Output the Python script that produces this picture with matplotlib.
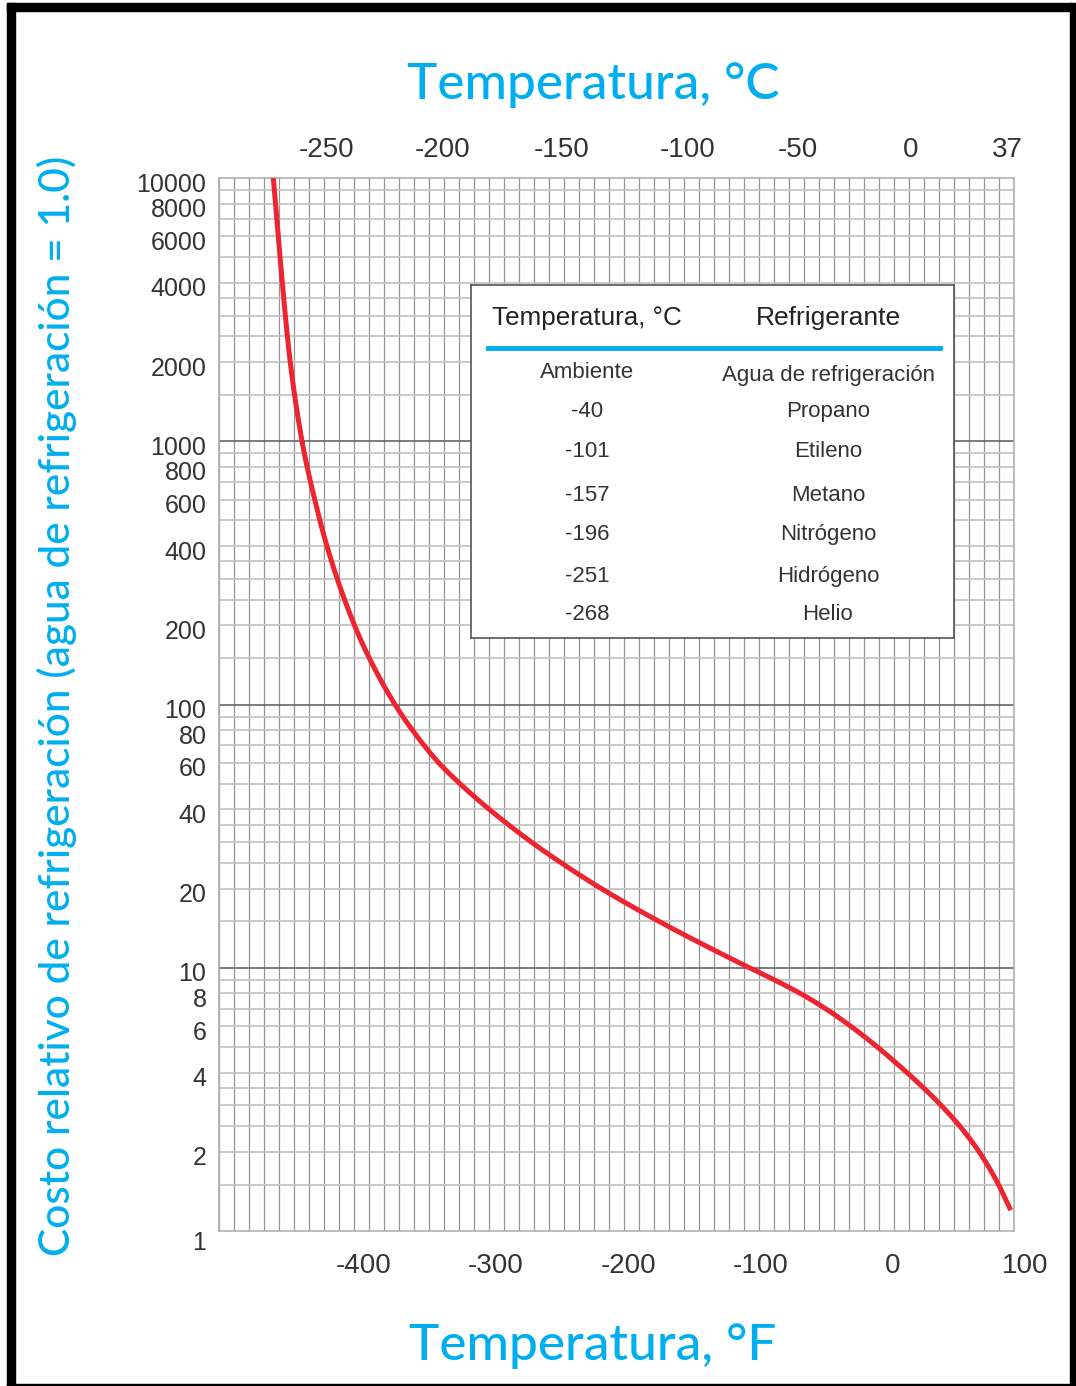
import numpy as np
import matplotlib
matplotlib.use('Agg')
from matplotlib import pyplot as plt
from matplotlib.patches import Rectangle
from matplotlib.transforms import ScaledTranslation

# curve: temperature (°F) vs relative cost
temp_f = [-468.0, -464.2, -461.2, -455.2, -446.3, -432.8, -427.5, -419.7, -406.7,
          -395.5, -376.1, -363.0, -343.0, -327.0, -305.0, -273.0, -250.4, -220.4,
          -176.7, -108.5, -89.7, -70.2, -51.1, -32.0, -11.8, 10.5, 23.0, 36.4,
          50.5, 65.0, 79.7, 88.9]
cost = [10000, 6000, 4000, 2000, 1000, 500, 400, 300, 200,
        150, 100, 80, 60, 50, 40, 30, 25, 20,
        15, 10, 9, 8, 7, 6, 5, 4, 3.5, 3,
        2.5, 2, 1.5, 1.2]

f_ticks = [-400, -300, -200, -100, 0, 100]
c_labels = ['-250', '-200', '-150', '-100', '-50', '0', '37']
c_pos_f = [-428, -340, -250.5, -155, -71.5, 13, 86.4]   # where the °C labels sit on the °F scale
y_ticks = [1, 2, 4, 6, 8, 10, 20, 40, 60, 80, 100, 200, 400, 600, 800,
           1000, 2000, 4000, 6000, 8000, 10000]

table_temp = ['Ambiente', '-40', '-101', '-157', '-196', '-251', '-268']
table_refr = ['Agua de refrigeración', 'Propano', 'Etileno', 'Metano',
              'Nitrógeno', 'Hidrógeno', 'Helio']
row_y_px = [372, 412, 452, 496, 535, 577, 615]

CYAN = '#00aeef'
W, H = 1076, 1386
XMIN, XMAX = -509, 91

plt.rcParams['font.family'] = ['Liberation Sans', 'DejaVu Sans']


def fx(px):
    return px / W


def fy(py):
    return 1 - py / H


def pchip_curve(temps, costs, n=400):
    # monotone cubic through the read points, temperature as a function of log(cost)
    x = np.log10(costs)[::-1]
    y = np.asarray(temps, float)[::-1]
    h = np.diff(x)
    dl = np.diff(y) / h
    d = np.zeros_like(y)
    for k in range(1, len(y) - 1):
        if dl[k - 1] * dl[k] > 0:
            w1, w2 = 2 * h[k] + h[k - 1], h[k] + 2 * h[k - 1]
            d[k] = (w1 + w2) / (w1 / dl[k - 1] + w2 / dl[k])
    d[0], d[-1] = dl[0], dl[-1]
    xs = np.linspace(x[0], x[-1], n)
    idx = np.clip(np.searchsorted(x, xs) - 1, 0, len(h) - 1)
    t = (xs - x[idx]) / h[idx]
    h00, h10 = 2 * t**3 - 3 * t**2 + 1, t**3 - 2 * t**2 + t
    h01, h11 = -2 * t**3 + 3 * t**2, t**3 - t**2
    ys = h00 * y[idx] + h10 * h[idx] * d[idx] + h01 * y[idx + 1] + h11 * h[idx] * d[idx + 1]
    return ys, 10 ** xs


fig = plt.figure(figsize=(W / 100, H / 100), dpi=100)
fig.patch.set_facecolor('white')

ax = fig.add_axes([fx(219), fy(1231), (1013.5 - 219) / W, (1231 - 178) / H])
ax.set_yscale('log')
ax.set_xlim(XMIN, XMAX)
ax.set_ylim(1, 10000)

# grid paper
for x in np.linspace(XMIN, XMAX, 54):
    ax.axvline(x, color='#929292', lw=0.9, zorder=1)
for dec in [1, 10, 100, 1000]:
    for m in [1.5, 2, 2.5, 3, 3.5, 4, 5, 6, 7, 8, 9]:
        ax.axhline(dec * m, color='#c4c4c4', lw=1.3, zorder=1)
for dec in [10, 100, 1000]:
    ax.axhline(dec, color='#666666', lw=1.2, zorder=2)
for s in ax.spines.values():
    s.set_color('#b0b0b0')
    s.set_linewidth(1.2)

sx, sy = pchip_curve(temp_f, cost)
ax.plot(sx, sy, color='#ec2531', lw=3.6, zorder=5, solid_capstyle='butt')

ax.tick_params(length=0, colors='#333333')
ax.tick_params(axis='x', labelsize=20, pad=16)
ax.set_xticks([t for t in f_ticks if t <= XMAX])
ax.set_xticklabels([str(t) for t in f_ticks if t <= XMAX])
for t in f_ticks:
    if t > XMAX:
        ax.annotate(str(t), xy=(t, 0), xycoords=('data', 'axes fraction'),
                    xytext=(0, -16), textcoords='offset points', fontsize=20,
                    color='#333333', ha='center', va='top', annotation_clip=False)

ax.set_yticks(y_ticks)
ax.set_yticklabels([str(v) for v in y_ticks])
ax.yaxis.set_minor_locator(matplotlib.ticker.NullLocator())
ax.tick_params(axis='y', labelsize=18, pad=9)
for lab in ax.get_yticklabels():
    dy = -10 if lab.get_text() == '1' else -4
    lab.set_transform(lab.get_transform() + ScaledTranslation(0, dy / 100, fig.dpi_scale_trans))

top = ax.twiny()
top.set_xlim(XMIN, XMAX)
top.set_xticks(c_pos_f)
top.set_xticklabels(c_labels)
top.tick_params(length=0, labelsize=20, colors='#333333', pad=11)
for s in top.spines.values():
    s.set_visible(False)

# axis titles
tfont = dict(color=CYAN, family=['Lato', 'DejaVu Sans'], weight='medium',
             ha='center', va='center')
fig.text(fx(593), fy(85), 'Temperatura, °C', fontsize=37, **tfont)
fig.text(fx(593), fy(1346), 'Temperatura, °F', fontsize=37, **tfont)
fig.text(fx(57), fy(706), 'Costo relativo de refrigeración (agua de refrigeración = 1.0)',
         fontsize=30.5, rotation=90, **tfont)

# table box
tab = fig.add_axes([fx(471), fy(638), (954 - 471) / W, (638 - 285) / H])
tab.set_xlim(471, 954)
tab.set_ylim(638, 285)
tab.set_xticks([])
tab.set_yticks([])
tab.set_facecolor('white')
for s in tab.spines.values():
    s.set_color('#555555')
    s.set_linewidth(1.2)
tab.text(587, 318, 'Temperatura, °C', fontsize=18.7, color='#222222', ha='center', va='center')
tab.text(828, 318, 'Refrigerante', fontsize=19, color='#222222', ha='center', va='center')
tab.plot([488, 940], [348, 348], color=CYAN, lw=3.5)
for t, r, yy in zip(table_temp, table_refr, row_y_px):
    tab.text(587, yy, t, fontsize=16, color='#333333', ha='center', va='center')
    tab.text(828, yy + (3 if r.startswith('Agua') else 0), r, fontsize=16,
             color='#333333', ha='center', va='center')

# outer frame of the picture
frame = [((7, 3), 1065, 8), ((7, 3), 8, 1383), ((1070, 3), 6, 1383), ((7, 1384), 1069, 2)]
for (x0, y0), w, h in frame:
    fig.patches.append(Rectangle((fx(x0), fy(y0 + h)), w / W, h / H,
                                 transform=fig.transFigure, color='black', figure=fig))

fig.savefig('out.png', dpi=100)
